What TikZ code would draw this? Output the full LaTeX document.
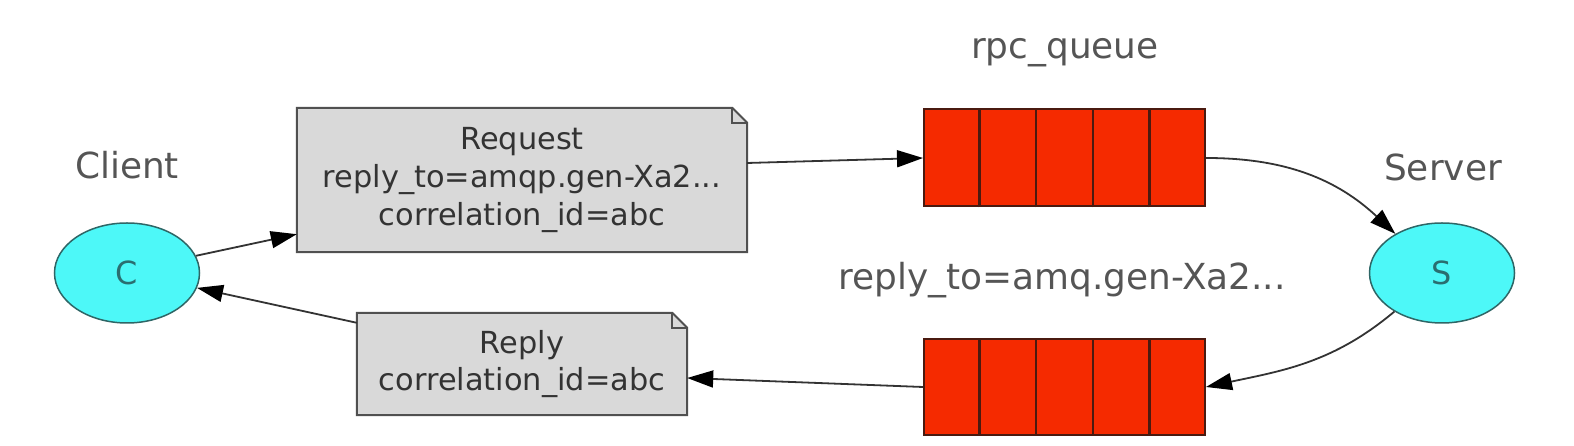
\documentclass[tikz,border=0pt]{standalone}
\usepackage{fontspec}
\setmainfont{DejaVu Sans}
\usetikzlibrary{arrows.meta,shapes.geometric,calc,backgrounds}
\definecolor{cyanfill}{HTML}{4DF8F8}
\definecolor{cyanline}{HTML}{2E6666}
\definecolor{ctext}{HTML}{2A6E70}
\definecolor{qred}{HTML}{F52A00}
\definecolor{qline}{HTML}{4A1A10}
\definecolor{boxfill}{HTML}{D9D9D9}
\definecolor{boxline}{HTML}{505050}
\definecolor{txtc}{HTML}{333333}
\definecolor{lblc}{HTML}{555555}
\definecolor{connc}{HTML}{333333}
\tikzset{
  lbl/.style={text=lblc, inner sep=0, font=\fontsize{36}{43}\selectfont},
  ell/.style={ellipse, draw=cyanline, fill=cyanfill, line width=1.5bp, minimum width=145bp, minimum height=100bp, inner sep=0, text=ctext, font=\fontsize{32}{38}\selectfont},
  notebox/.style={rectangle, inner sep=0, text=txtc, align=center, font=\fontsize{30.5}{38}\selectfont},
  notedraw/.style={draw=boxline, fill=boxfill, line width=2bp, line join=miter},
  queue/.style={rectangle, draw=qline, fill=qred, line width=2bp, minimum width=281bp, minimum height=97bp, inner sep=0},
  qdiv/.style={draw=qline, line width=2.5bp},
  conn/.style={draw=connc, line width=1.8bp, -{Triangle[length=26bp,width=17bp,black]}},
}
\begin{document}
\begin{tikzpicture}[x=1bp,y=1bp]
\useasboundingbox (0,0) rectangle (1574,446);
% nodes
\node[ell] (C) at (127,173) {C};
\node[ell] (S) at (1442,173) {S};
\node[lbl] (clientlbl) at (127,281) {Client};
\node[lbl] (serverlbl) at (1443,279) {Server};
\node[lbl] (rpclbl) at (1065,393) {rpc\_queue};
\node[lbl] (replylbl) at (1062,166) {reply\_to=amq.gen-Xa2...};
\node[notebox, minimum width=450bp, minimum height=144bp] (req) at (522,266)
  {Request\\reply\_to=amqp.gen-Xa2...\\correlation\_id=abc};
\node[notebox, minimum width=330bp, minimum height=102bp] (rep) at (522,82)
  {Reply\\correlation\_id=abc};
\begin{scope}[on background layer]
  \foreach \b in {req,rep} {
    \draw[notedraw] (\b.south west) -- (\b.north west) -- ([xshift=-15bp]\b.north east)
      -- ([yshift=-15bp]\b.north east) -- (\b.south east) -- cycle;
    \draw[draw=boxline, line width=1.5bp] ([xshift=-15bp]\b.north east) |- ([yshift=-15bp]\b.north east);
  }
\end{scope}
\node[queue] (q1) at (1064.5,288) {};
\node[queue, minimum height=96bp] (q2) at (1064.5,59) {};
\foreach \q in {q1,q2} {
  \foreach \k in {1,2,3,4} {
    \draw[qdiv] ($(\q.south west)!\k/5!(\q.south east)$) -- ($(\q.north west)!\k/5!(\q.north east)$);
  }
}
% connectors
\draw[conn] (C.14) -- ([yshift=18bp]req.south west);
\draw[conn] ([yshift=17bp]req.east) -- (q1.west);
\draw[conn] (q1.east) to[out=0,in=137] (S.140);
\draw[conn] (S.219) to[out=220,in=12] (q2.east);
\draw[conn] (q2.west) -- ([yshift=-14bp]rep.east);
\draw[conn] ([yshift=-10bp]rep.north west) -- (C.-12);
\end{tikzpicture}
\end{document}
